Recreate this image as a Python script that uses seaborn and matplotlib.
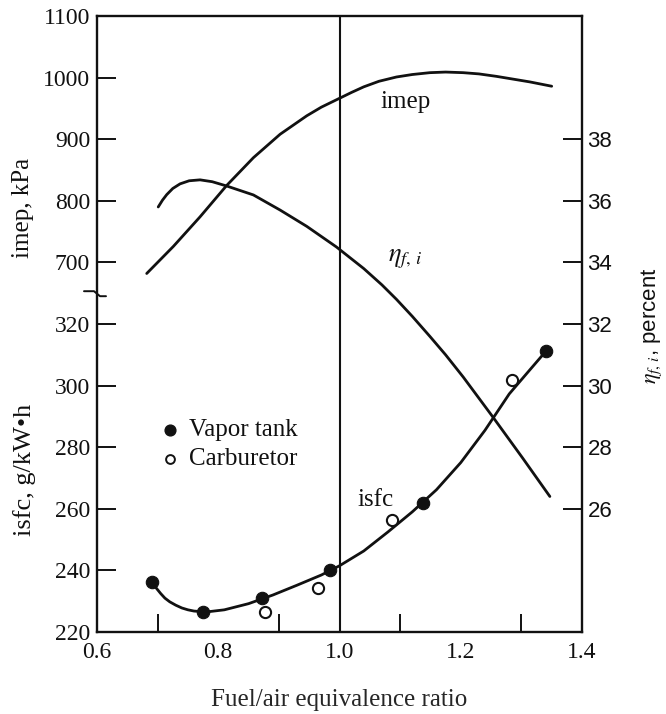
import matplotlib
matplotlib.use("Agg")
import matplotlib.pyplot as plt
import matplotlib.transforms as mtransforms
import seaborn as sns
import pandas as pd

# ---------------- data ----------------
x_label = "Fuel/air equivalence ratio"

# isfc measured points
vapor_phi = [0.690, 0.775, 0.872, 0.985, 1.138, 1.341]
vapor_isfc = [236.3, 226.6, 230.9, 240.1, 261.8, 311.3]
carb_phi = [0.877, 0.965, 1.086, 1.284]
carb_isfc = [226.6, 234.2, 256.4, 301.8]

# isfc fitted curve
isfc_curve_phi = [0.690, 0.698, 0.705, 0.712, 0.720, 0.730, 0.740, 0.750, 0.760,
                  0.780, 0.810, 0.850, 0.890, 0.930, 0.970, 1.000, 1.040, 1.080,
                  1.120, 1.160, 1.200, 1.240, 1.280, 1.310, 1.341]
isfc_curve = [236.3, 234.2, 232.5, 231.0, 229.8, 228.7, 227.8, 227.2, 226.8,
              226.5, 227.2, 229.2, 232.0, 235.2, 238.5, 241.5, 246.3, 252.5,
              259.0, 266.2, 275.0, 285.5, 297.3, 304.2, 311.3]

# imep curve
imep_phi = [0.682, 0.726, 0.770, 0.814, 0.858, 0.902, 0.946, 0.970, 0.995, 1.020,
            1.040, 1.065, 1.094, 1.120, 1.149, 1.175, 1.204, 1.230, 1.259, 1.314,
            1.350]
imep = [682, 726, 774, 825, 870, 908, 938, 952, 964, 976, 985, 994, 1001, 1005,
        1008, 1009, 1008, 1006, 1002, 993, 986]

# indicated fuel conversion efficiency curve
eta_phi = [0.701, 0.708, 0.715, 0.725, 0.737, 0.752, 0.770, 0.790, 0.814, 0.858,
           0.902, 0.946, 0.995, 1.040, 1.070, 1.094, 1.120, 1.149, 1.175, 1.204,
           1.253, 1.302, 1.347]
eta = [35.80, 36.02, 36.20, 36.40, 36.55, 36.65, 36.68, 36.62, 36.48, 36.19,
       35.70, 35.17, 34.50, 33.80, 33.27, 32.80, 32.25, 31.60, 31.00, 30.28,
       28.98, 27.65, 26.40]

x_ticks = [0.6, 0.8, 1.0, 1.2, 1.4]
x_minor = [0.7, 0.8, 0.9, 1.1, 1.2, 1.3]
isfc_ticks = [220, 240, 260, 280, 300, 320]
imep_ticks = [700, 800, 900, 1000, 1100]
eta_ticks = [26, 28, 30, 32, 34, 36, 38]

# ---------------- style ----------------
sns.set_style("ticks")
plt.rcParams["font.family"] = ["Liberation Serif", "DejaVu Serif"]
plt.rcParams["mathtext.fontset"] = "stix"
FS = 17
INK = "#111111"

fig = plt.figure(figsize=(6.66, 7.14), dpi=100)
ax = fig.add_axes([97 / 666, 1 - 632 / 714, 485 / 666, 616 / 714])
ax_imep = ax.twinx()
ax_eta = ax.twinx()

# scales
ax.set_xlim(0.6, 1.4)
ax.set_ylim(220, 420)
ax_imep.set_ylim(100, 1100)
ax_eta.set_ylim(22, 42)

# curves
lw = 2.0
sns.lineplot(x=isfc_curve_phi, y=isfc_curve, ax=ax, color=INK, lw=lw,
             sort=False, estimator=None)
sns.lineplot(x=imep_phi, y=imep, ax=ax_imep, color=INK, lw=lw,
             sort=False, estimator=None)
sns.lineplot(x=eta_phi, y=eta, ax=ax_eta, color=INK, lw=lw,
             sort=False, estimator=None)

# measured points
sns.scatterplot(x=vapor_phi, y=vapor_isfc, ax=ax, color=INK, s=80,
                edgecolor=INK, linewidth=0.8, zorder=5)
sns.scatterplot(x=carb_phi, y=carb_isfc, ax=ax, facecolor="white", s=65,
                edgecolor=INK, linewidth=1.5, zorder=5)

# stoichiometric vertical line
ax.axvline(1.0, color=INK, lw=1.5)

# ---------------- axes styling ----------------
for a in (ax, ax_imep, ax_eta):
    for s in a.spines.values():
        s.set_linewidth(1.7)
        s.set_color(INK)
ax_imep.spines[:].set_visible(False)
ax_eta.spines[:].set_visible(False)

ax.set_xticks(x_ticks)
ax.set_xticklabels([f"{v:.1f}" for v in x_ticks], fontsize=FS)
ax.set_xticks(x_minor, minor=True)
ax.tick_params(axis="x", which="major", direction="in", length=0, pad=7,
               colors=INK)
ax.tick_params(axis="x", which="minor", direction="in", length=13, width=1.4,
               colors=INK)
ax.tick_params(axis="x", which="major", top=False)

ax.set_yticks(isfc_ticks)
ax.set_yticklabels([str(v) for v in isfc_ticks], fontsize=FS)
ax.tick_params(axis="y", direction="in", length=14, width=1.4, pad=5,
               colors=INK, right=False)

ax_imep.yaxis.tick_left()
ax_imep.set_yticks(imep_ticks)
ax_imep.set_yticklabels([str(v) for v in imep_ticks], fontsize=FS)
ax_imep.tick_params(axis="y", direction="in", length=14, width=1.4, pad=5,
                    colors=INK)

ax_eta.set_yticks(eta_ticks)
ax_eta.set_yticklabels([str(v) for v in eta_ticks], fontsize=FS - 1,
                       family="Liberation Sans")
ax_eta.tick_params(axis="y", direction="in", length=14, width=1.4, pad=4,
                   colors=INK)

ax.set_xlabel(x_label, fontsize=18, labelpad=19)

# axis break on the left spine (between 320 and 700)
brk = mtransforms.blended_transform_factory(ax.transAxes, ax.transData)
ybr = 330
dx = 1 / 485
dy = 20 / 61.6
ax.plot([-13 * dx, -3 * dx, 3 * dx, 9 * dx],
        [ybr + 2 * dy, ybr + 2 * dy, ybr - 3 * dy, ybr - 3 * dy],
        transform=brk, color=INK, lw=1.4, clip_on=False, zorder=6)

# axis titles
fig.text(23 / 666, 1 - 208 / 714, "imep, kPa", rotation=90, ha="center",
         va="center", fontsize=18, color=INK)
fig.text(25 / 666, 1 - 470 / 714, "isfc, g/kW\u2022h", rotation=90,
         ha="center", va="center", fontsize=19, color=INK)
fig.text(652 / 666, 1 - 326 / 714, r"$\eta_{f,\,i}$, percent", rotation=90,
         ha="center", va="center", fontsize=16, color=INK,
         family="Liberation Sans")

# curve labels
ax_imep.text(1.067, 961, "imep", fontsize=18, ha="left", va="center",
             color=INK)
ax_eta.text(1.108, 34.1, r"$\eta_{f,\,i}$", fontsize=19, ha="center",
            va="center", color=INK)
ax.text(1.059, 262.9, "isfc", fontsize=18, ha="center", va="center",
        color=INK)

# legend (drawn as marks + text inside the axes)
leg_df = pd.DataFrame({"phi": [0.72, 0.72], "y": [285.5, 276.3]})
ax.scatter(leg_df["phi"][:1], leg_df["y"][:1], s=60, color=INK, zorder=5)
ax.scatter(leg_df["phi"][1:], leg_df["y"][1:], s=40, facecolor="white",
           edgecolor=INK, linewidth=1.4, zorder=5)
ax.text(0.752, 285.5, "Vapor tank", fontsize=18, va="center", color=INK)
ax.text(0.752, 276.3, "Carburetor", fontsize=18, va="center", color=INK)

fig.savefig("out.png", dpi=100)
